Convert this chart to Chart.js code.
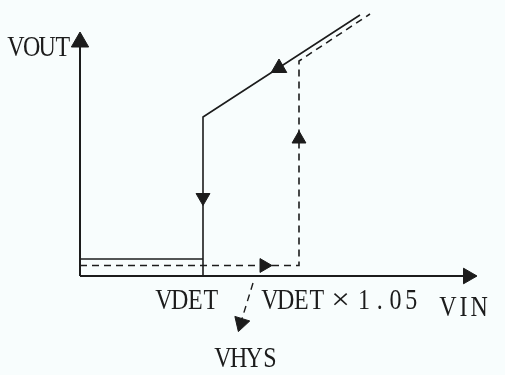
<!DOCTYPE html>
<html>
<head>
<meta charset="utf-8">
<script src="https://cdn.jsdelivr.net/npm/chart.js@4"></script>
<style>
  html, body { margin: 0; padding: 0; background: #f8fdfd; }
  #wrap { width: 505px; height: 375px; }
</style>
</head>
<body>
<div id="wrap"><canvas id="hysChart" width="505" height="375"></canvas></div>
<script>
// Data (VIN on x, VOUT on y, arbitrary units)
const vDet = 12.3;          // VDET
const vDetHys = 21.9;       // VDET x 1.05
const axisX = [{ x: 0, y: 0 }, { x: 39.6, y: 0 }];
const axisY = [{ x: 0, y: 0 }, { x: 0, y: 24.2 }];
const lowSolid = [{ x: 0, y: 1.7 }, { x: vDet, y: 1.7 }];
const fallPath = [{ x: 28.0, y: 26.1 }, { x: vDet, y: 15.9 }, { x: vDet, y: 0 }];
const risePath = [{ x: 0, y: 1.05 }, { x: vDetHys, y: 1.05 }, { x: vDetHys, y: 21.5 }, { x: 29.0, y: 26.2 }];
const hysPointer = [{ x: 17.3, y: -0.7 }, { x: 16.1, y: -4.6 }];
const arrowHeads = [
    { x: 0, y: 23.4 },      // VOUT axis
    { x: 38.8, y: 0 },      // VIN axis
    { x: vDet, y: 7.85 },   // falling
    { x: 18.4, y: 1.05 },   // rising along bottom
    { x: vDetHys, y: 13.7 },// rising vertical
    { x: 19.9, y: 20.8 },   // on slope
    { x: 16.1, y: -4.7 }    // VHYS pointer
];
const xTickLabels = ["VDET", "VDET×1.05"];
const axisTitles = ["VIN", "VOUT"];
const noteLabel = "VHYS";

const ink = "#1c1c1c";

// background
const bgPlugin = {
    id: "bg",
    beforeDraw(chart) {
        const c = chart.ctx;
        c.save();
        c.fillStyle = "#f8fdfd";
        c.fillRect(0, 0, chart.width, chart.height);
        c.restore();
    }
};

// fixed pitch serif text, like the old bitmap font
function drawMono(c, text, x0, baseline) {
    const pitch = 15.7;
    let cells = 0;
    for (const ch of text) {
        const w = ch === "×" ? 2 : 1;
        const cx = x0 + (cells + w / 2) * pitch;
        c.save();
        c.translate(cx, baseline);
        c.scale(ch === "×" ? 1.1 : 0.8, 1);
        c.fillText(ch, 0, 0);
        c.restore();
        cells += w;
    }
}

const labelPlugin = {
    id: "labels",
    afterDraw(chart) {
        const c = chart.ctx;
        const xs = chart.scales.x, ys = chart.scales.y;
        const x0 = xs.getPixelForValue(0), y0 = ys.getPixelForValue(0);
        c.save();
        c.fillStyle = ink;
        c.font = '30px "Liberation Serif"';
        c.textAlign = "center";
        c.textBaseline = "alphabetic";
        drawMono(c, xTickLabels[0], xs.getPixelForValue(vDet) - 47, y0 + 33);
        drawMono(c, xTickLabels[1], xs.getPixelForValue(vDetHys) - 37, y0 + 33);
        drawMono(c, axisTitles[0], 440, y0 + 40);
        drawMono(c, axisTitles[1], x0 - 72, ys.getPixelForValue(24.2) + 22);
        drawMono(c, noteLabel, 215, y0 + 91);
        c.restore();
    }
};

function lineSet(data, dashed, width) {
    return {
        data: data,
        showLine: true,
        borderColor: ink,
        borderWidth: width || 1.6,
        borderDash: dashed ? [7, 5] : [],
        pointRadius: 0,
        fill: false,
        clip: false
    };
}

const ctx = document.getElementById("hysChart").getContext("2d");
new Chart(ctx, {
    type: "scatter",
    data: {
        datasets: [
            lineSet(axisX, false, 2),
            lineSet(axisY, false, 2),
            lineSet(lowSolid, false),
            lineSet(fallPath, false),
            lineSet(risePath, true),
            lineSet(hysPointer, true, 1.4),
            {
                data: arrowHeads,
                showLine: false,
                pointStyle: "triangle",
                pointRadius: [10, 9, 8, 8, 8, 9, 9],
                pointRotation: [0, 90, 180, 90, 0, 0, 197],
                backgroundColor: ink,
                borderColor: ink,
                borderWidth: 1,
                clip: false
            }
        ]
    },
    options: {
        responsive: false,
        animation: false,
        layout: { padding: 0, autoPadding: false },
        plugins: {
            legend: { display: false },
            tooltip: { enabled: false }
        },
        scales: {
            x: { type: "linear", min: -8, max: 42.5, display: false },
            y: { type: "linear", min: -9.9, max: 27.6, display: false }
        }
    },
    plugins: [bgPlugin, labelPlugin]
});
</script>
</body>
</html>
